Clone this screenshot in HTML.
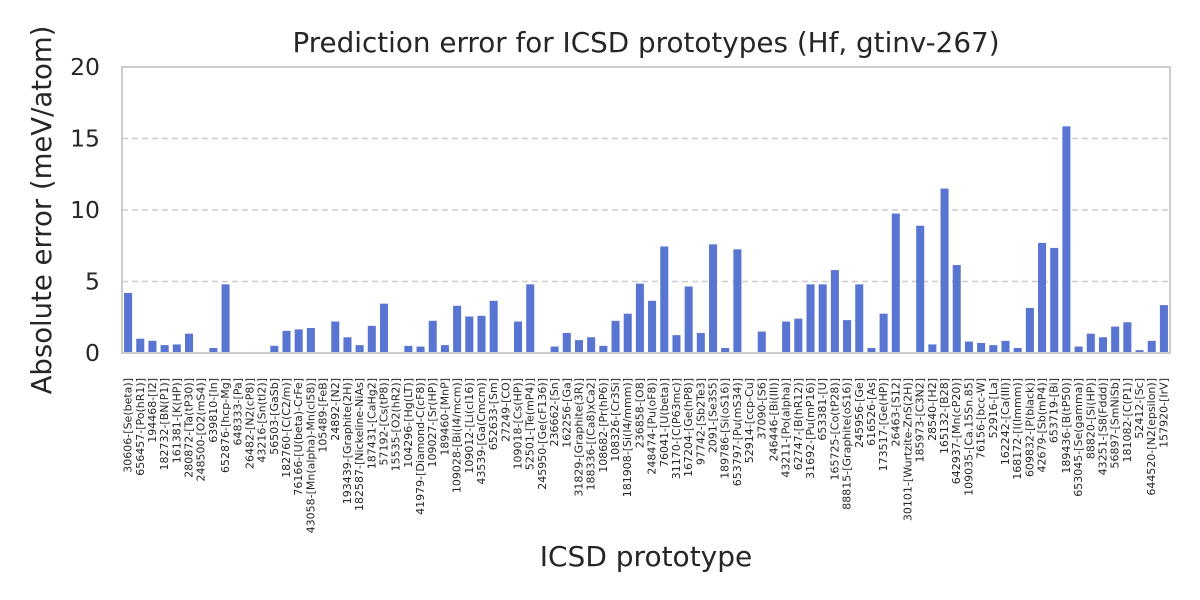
<!DOCTYPE html>
<html><head><meta charset="utf-8">
<style>body{margin:0;background:#fff;}svg{display:block;font-family:"DejaVu Sans","Liberation Sans",sans-serif;}</style>
</head><body>
<svg id="chart" width="1200" height="600"></svg>
<script>
const categories=["30606-[Se(beta)]","656457-[Po(hR1)]","194468-[I2]","182732-[BN(P1)]","161381-[K(HP)]","280872-[Ta(tP30)]","248500-[O2(mS4)]","639810-[In]","652876-[hcp-Mg]","648333-[Pa]","26482-[N2(cP8)]","43216-[Sn(tI2)]","56503-[GaSb]","182760-[C(C2/m)]","76166-[U(beta)-CrFe]","43058-[Mn(alpha)-Mn(cI58)]","105489-[FeB]","24892-[N2]","193439-[Graphite(2H)]","182587-[Nickeline-NiAs]","187431-[CaHg2]","57192-[Cs(tP8)]","15535-[O2(hR2)]","104296-[Hg(LT)]","41979-[Diamond-C(cF8)]","109027-[Sr(HP)]","189460-[MnP]","109028-[Bi(I4/mcm)]","109012-[Li(cI16)]","43539-[Ga(Cmcm)]","652633-[Sm]","27249-[CO]","109018-[Cs(HP)]","52501-[Te(mP4)]","245950-[Ge(cF136)]","236662-[Sn]","162256-[Ga]","31829-[Graphite(3R)]","188336-[(Ca8)xCa2]","108682-[Pr(hP6)]","108326-[Cr3Si]","181908-[Si(I4/mmm)]","236858-[O8]","248474-[Pu(oF8)]","76041-[U(beta)]","31170-[C(P63mc)]","167204-[Ge(hP8)]","97742-[Sb2Te3]","2091-[Se3S5]","189786-[Si(oS16)]","653797-[Pu(mS34)]","52914-[ccp-Cu]","37090-[S6]","246446-[Bi(III)]","43211-[Po(alpha)]","62747-[B(hR12)]","31692-[Pu(mP16)]","653381-[U]","165725-[Co(tP28)]","88815-[Graphite(oS16)]","245956-[Ge]","616526-[As]","173517-[Ge(HP)]","26463-[S12]","30101-[Wurtzite-ZnS(2H)]","185973-[C3N2]","28540-[H2]","165132-[B28]","642937-[Mn(cP20)]","109035-[Ca.15Sn.85]","76156-[bcc-W]","52916-[La]","162242-[Ca(III)]","168172-[I(Immm)]","609832-[P(black)]","42679-[Sb(mP4)]","653719-[Bi]","189436-[B(tP50)]","653045-[Se(gamma)]","88820-[Si(HP)]","43251-[S8(Fddd)]","56897-[SmNiSb]","181082-[C(P1)]","52412-[Sc]","644520-[N2(epsilon)]","157920-[IrV]"];
const values=[4.2,1.0,0.85,0.55,0.6,1.35,0.05,0.35,4.8,0,0,0,0.5,1.55,1.65,1.75,0,2.2,1.1,0.55,1.9,3.45,0,0.5,0.45,2.25,0.55,3.3,2.55,2.6,3.65,0,2.2,4.8,0,0.45,1.4,0.9,1.1,0.5,2.25,2.75,4.85,3.65,7.45,1.25,4.65,1.4,7.6,0.35,7.25,0.05,1.5,0,2.2,2.4,4.8,4.8,5.8,2.3,4.8,0.35,2.75,9.75,0.05,8.9,0.6,11.5,6.15,0.8,0.7,0.55,0.85,0.35,3.15,7.7,7.35,15.85,0.45,1.35,1.1,1.85,2.15,0.2,0.85,3.35];
const yTicks=[0,5,10,15,20];

const svg=document.getElementById('chart');
const NS='http://www.w3.org/2000/svg';
const L=122,R=1170,T=67,B=353,yMax=20;
const step=(R-L)/categories.length;
const xPos=i=>L+step*(i+0.5);
const yPos=v=>B-(v/yMax)*(B-T);
function mk(tag,attrs,parent){const e=document.createElementNS(NS,tag);for(const k in attrs)e.setAttribute(k,attrs[k]);(parent||svg).appendChild(e);return e;}

const title=mk('text',{x:646,y:52,'text-anchor':'middle','font-size':27.8,fill:'#262626'});
title.textContent='Prediction error for ICSD prototypes (Hf, gtinv-267)';



yTicks.forEach(t=>{
  if(t>0&&t<yMax){const g=mk('line',{x1:L,x2:R,y1:yPos(t),y2:yPos(t),stroke:'#cccccc','stroke-width':1.5,'stroke-dasharray':'6,4'});
  
  }
  const tl=mk('text',{x:100,y:yPos(t)+8,'text-anchor':'end','font-size':23.5,fill:'#262626'});
  tl.textContent=t;
  
  
});

values.forEach((v,i)=>{
  const w=step*0.66;
  const r=mk('rect',{x:xPos(i)-w/2,y:yPos(v),width:w,height:B-yPos(v),fill:'#5875d1'});
  
  
  const lb=mk('text',{transform:`translate(${xPos(i)+3.5},378) rotate(-90)`,'text-anchor':'end','font-size':11,fill:'#262626'});
  lb.textContent=categories[i];
  
  
});

const fr=mk('rect',{x:L,y:T,width:R-L,height:B-T,fill:'none',stroke:'#cccccc','stroke-width':2});



const yt=mk('text',{transform:'translate(51,210) rotate(-90)','text-anchor':'middle','font-size':27.5,fill:'#262626'});
yt.textContent='Absolute error (meV/atom)';



const xt=mk('text',{x:646,y:566,'text-anchor':'middle','font-size':28,fill:'#262626'});
xt.textContent='ICSD prototype';


</script>
</body></html>
